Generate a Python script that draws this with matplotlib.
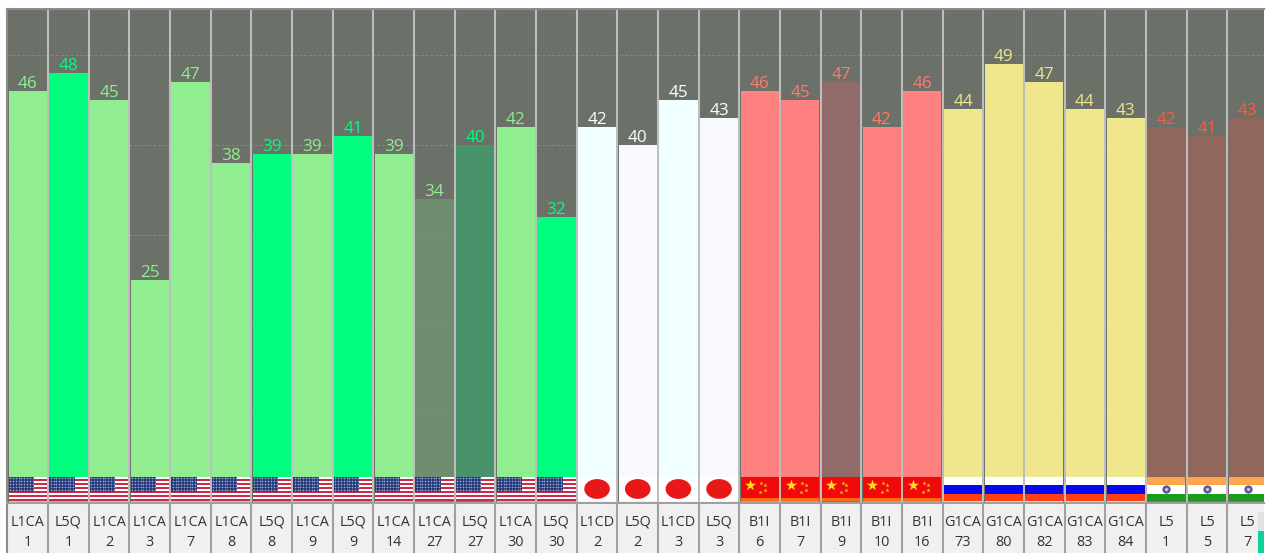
"""Satellite C/N0 bar panel with constellation flags."""
import numpy as np
import matplotlib
matplotlib.use("Agg")
import matplotlib.pyplot as plt
from matplotlib.patches import Rectangle, Ellipse

signals = ["L1CA", "L5Q", "L1CA", "L1CA", "L1CA", "L1CA", "L5Q", "L1CA", "L5Q", "L1CA", "L1CA", "L5Q", "L1CA", "L5Q",
           "L1CD", "L5Q", "L1CD", "L5Q",
           "B1I", "B1I", "B1I", "B1I", "B1I",
           "G1CA", "G1CA", "G1CA", "G1CA", "G1CA",
           "L5", "L5", "L5"]
prns = [1, 1, 2, 3, 7, 8, 8, 9, 9, 14, 27, 27, 30, 30,
        2, 2, 3, 3,
        6, 7, 9, 10, 16,
        73, 80, 82, 83, 84,
        1, 5, 7]
values = [46, 48, 45, 25, 47, 38, 39, 39, 41, 39, 34, 40, 42, 32,
          42, 40, 45, 43,
          46, 45, 47, 42, 46,
          44, 49, 47, 44, 43,
          42, 41, 43]
flags = ["us"] * 14 + ["jp"] * 4 + ["cn"] * 5 + ["ru"] * 5 + ["in"] * 3
dimmed = [10, 11, 20, 28, 29, 30]

BG = "#6b7068"
FONT = "Open Sans"
SIGNAL_COLORS = {"L1CA": "#90ee90", "L5Q": "#00ff7f", "L1CD": "#f0ffff", "B1I": "#ff8080",
                 "G1CA": "#f0e68c", "L5": "#ff8080"}
DIM_COLORS = {"L1CA": "#6f9270", "L5Q": "#45966b", "B1I": "#966b6b", "L5": "#96675c"}
TEXT_COLORS = {"jp": "white", "cn": "#ff7a70", "ru": "#f0e68c", "in": "#ff5a40"}


def bar_color(i):
    if flags[i] == "jp" and signals[i] == "L5Q":
        return "#f8f8ff"
    if i in dimmed:
        return DIM_COLORS[signals[i]]
    return SIGNAL_COLORS[signals[i]]


def draw_flag(ax, kind, x0, x1, y0, y1):
    w, h = x1 - x0, y1 - y0
    ax.add_patch(Rectangle((x0, y0), w, h, fc="white", ec="none", zorder=3))
    if kind == "us":
        n = 12
        for k in range(1, n, 2):
            ax.add_patch(Rectangle((x0, y1 - (k + 1) * h / n), w, h / n, fc="#cc2a46", ec="none", zorder=3.1))
        ax.add_patch(Rectangle((x0, y1 - 0.62 * h), 0.66 * w, 0.62 * h, fc="#23397a", ec="none", zorder=3.2))
        xs = x0 + 0.66 * w * (np.arange(9) + 0.5) / 9
        ys = y1 - 0.62 * h * (np.arange(5) + 0.5) / 5
        xx, yy = np.meshgrid(xs, ys)
        ax.scatter(xx.ravel(), yy.ravel(), s=1.5, c="#9aa6cc", lw=0, zorder=3.3)
    elif kind == "jp":
        ax.add_patch(Ellipse((x0 + w / 2, y0 + h / 2), 0.67 * w, 0.8 * h, fc="#e81818", ec="none", zorder=3.1))
    elif kind == "cn":
        ax.add_patch(Rectangle((x0, y0), w, h, fc="#f00a0a", ec="none", zorder=3.1))
        ax.add_patch(Rectangle((x0, y0), w, 0.14 * h, fc="#ff6a10", ec="none", zorder=3.2))
        ax.scatter([x0 + 0.25 * w], [y0 + 0.67 * h], s=70, marker="*", c="#ffe020", lw=0, zorder=3.3)
        ax.scatter(x0 + np.array([0.54, 0.64, 0.64, 0.51]) * w, y0 + np.array([0.76, 0.68, 0.47, 0.38]) * h,
                   s=10, marker="*", c="#f0c020", lw=0, zorder=3.3)
    elif kind == "ru":
        ax.add_patch(Rectangle((x0, y0), w, 0.31 * h, fc="#ff4010", ec="none", zorder=3.1))
        ax.add_patch(Rectangle((x0, y0 + 0.31 * h), w, 0.35 * h, fc="#0808f0", ec="none", zorder=3.2))
    elif kind == "in":
        ax.add_patch(Rectangle((x0, y0 + 0.66 * h), w, 0.34 * h, fc="#ffa64d", ec="none", zorder=3.1))
        ax.add_patch(Rectangle((x0, y0), w, 0.3 * h, fc="#1e9a1e", ec="none", zorder=3.1))
        ax.scatter([x0 + w / 2], [y0 + h / 2], s=36, c="#5a5a9c", lw=0, zorder=3.2)
        ax.scatter([x0 + w / 2], [y0 + h / 2], s=5, c="#c8c8e0", lw=0, zorder=3.3)


W, H = 1266, 553
fig = plt.figure(figsize=(W / 100, H / 100), dpi=100, facecolor="white")

# bars panel, right edge runs to the clipped last column
left, right, top, bottom = 7.5, 1263.5, 9, 503
ax = fig.add_axes([left / W, 1 - bottom / H, (right - left) / W, (bottom - top) / H])
ax.set_facecolor(BG)
n = len(values)
col = 40.66
ax.set_xlim(0, (right - left) / col)
ax.set_ylim((504.5 - bottom) / 9, (504.5 - top) / 9)

x = np.arange(n) + 0.5
colors = [bar_color(i) for i in range(n)]
alphas = [0.9 if i in dimmed else 1.0 for i in range(n)]
ax.bar(x, values, width=0.94, color=colors, zorder=2)
for patch, a in zip(ax.patches, alphas):
    patch.set_alpha(a)
ax.set_yticks([10, 20, 30, 40, 50])
ax.yaxis.grid(True, color="#868b82", lw=0.7, ls=(0, (3, 2)), zorder=1)
ax.set_axisbelow(True)
ax.tick_params(left=False, bottom=False, labelleft=False, labelbottom=False)
for i in range(1, n):
    ax.axvline(i, color="#bdbdbd", lw=1.5, zorder=1.5)

for i in range(n):
    txt = TEXT_COLORS.get(flags[i], SIGNAL_COLORS[signals[i]])
    ax.text(x[i], values[i] - 0.12, str(values[i]), ha="center", va="bottom", color=txt,
            fontsize=12.3, family=FONT, zorder=4)
    draw_flag(ax, flags[i], i + 0.03, i + 0.97, 0.35, 3.1)

for s in ax.spines.values():
    s.set_color("#8c8c8c")
    s.set_linewidth(1.5)
ax.spines["right"].set_visible(False)
ax.spines["bottom"].set_visible(False)

# label strip below the bars
lab = fig.add_axes([left / W, 0, (right - left) / W, (H - bottom) / H])
lab.set_facecolor("#f0f0f0")
lab.set_xlim(ax.get_xlim())
lab.set_ylim(0, 1)
lab.tick_params(left=False, bottom=False, labelleft=False, labelbottom=False)
for i in range(n):
    lab.text(x[i], 0.61, signals[i], ha="center", va="center", fontsize=10.4, color="#333333", family=FONT)
    lab.text(x[i], 0.22, str(prns[i]), ha="center", va="center", fontsize=10.4, color="#333333", family=FONT)
    if i:
        lab.axvline(i, color="#a0a0a0", lw=1.5)
for s in lab.spines.values():
    s.set_visible(False)
lab.spines["top"].set_visible(True)
lab.spines["top"].set_color("#a0a0a0")
lab.spines["top"].set_linewidth(1.5)
lab.spines["left"].set_visible(True)
lab.spines["left"].set_color("#8c8c8c")
lab.spines["left"].set_linewidth(1.5)

# bit of scrollbar visible at the bottom right
track = fig.add_axes([1258 / W, 22 / H, 6 / W, 19 / H])
track.axis("off")
track.add_patch(Rectangle((0, 0), 1, 1, fc="#e2e2e2", ec="none", transform=track.transAxes))
bar = fig.add_axes([1258 / W, 0, 6 / W, 22 / H])
bar.axis("off")
bar.add_patch(Rectangle((0, 0), 1, 1, fc="#10d09a", ec="none", transform=bar.transAxes))

fig.savefig("out.png", dpi=100)
